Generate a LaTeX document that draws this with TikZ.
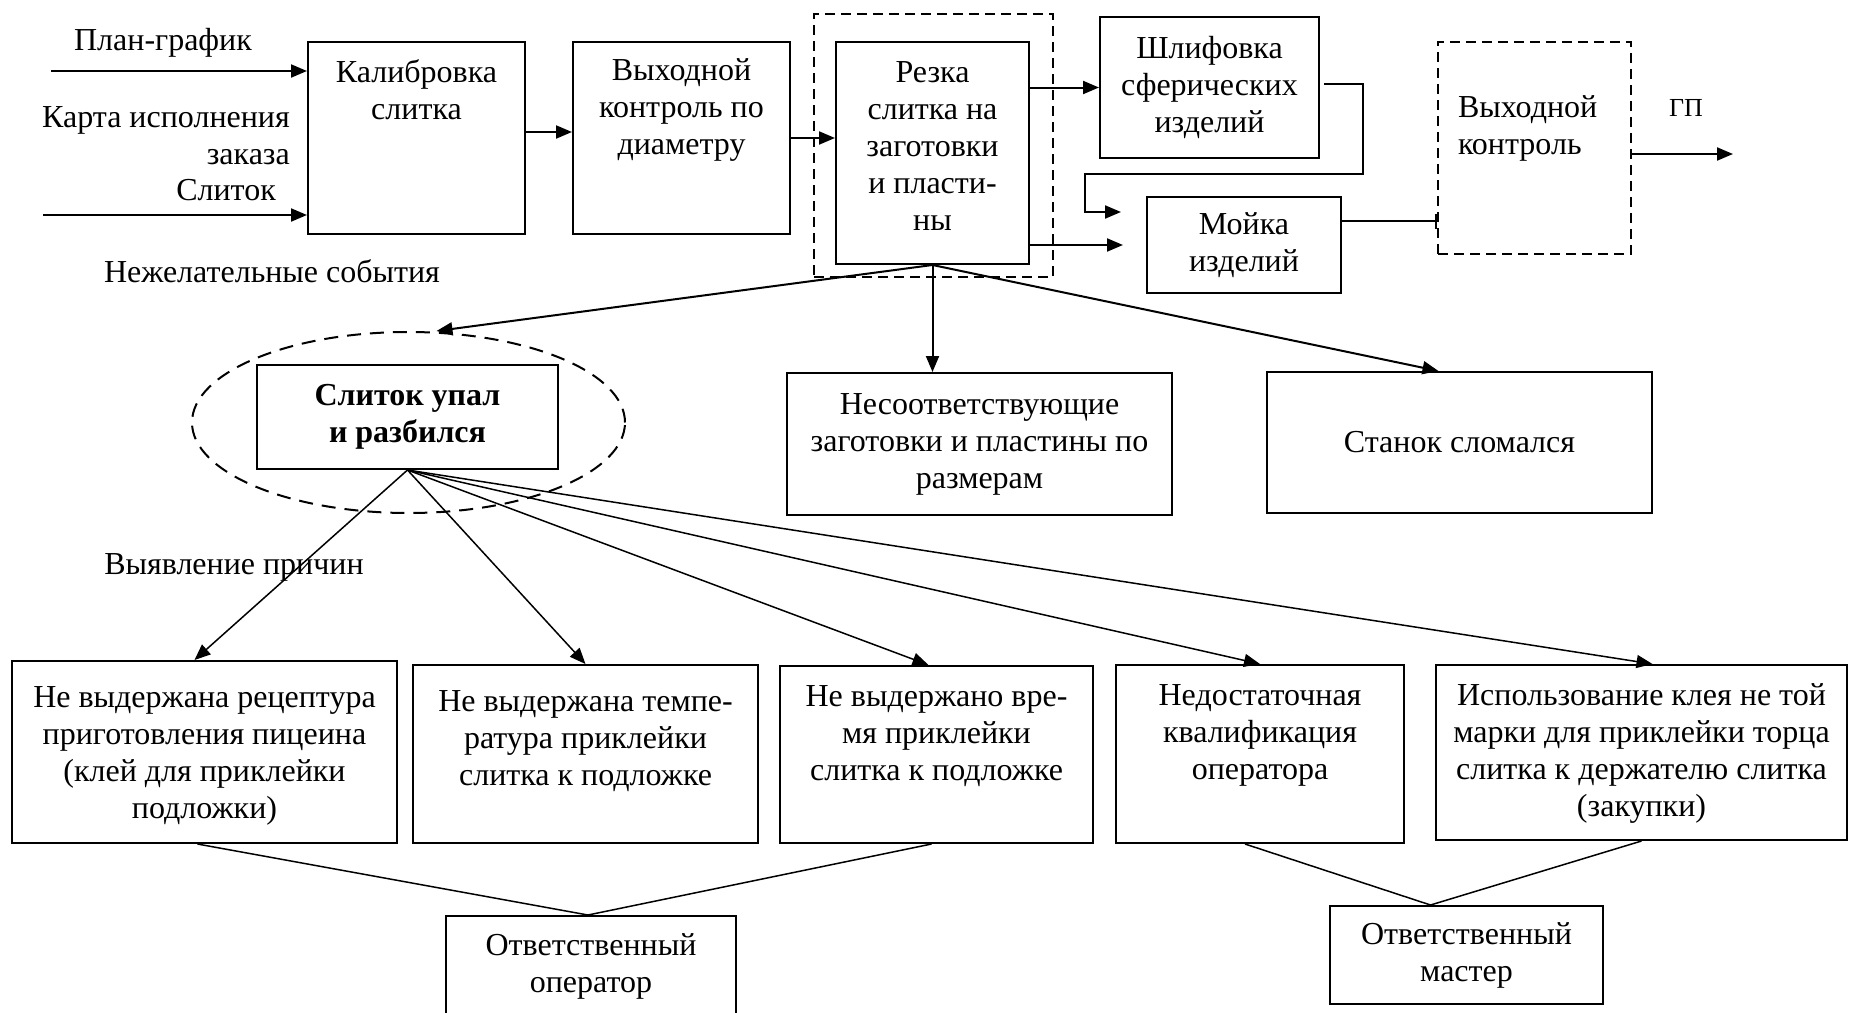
\documentclass[tikz,border=0pt]{standalone}
\usepackage{fontspec}
\setmainfont{Liberation Serif}
\usepackage{tikz}
\usetikzlibrary{arrows.meta}
\usetikzlibrary{shapes.geometric}

% box text hung from the top edge
\newcommand{\topcell}[4][40pt]{\parbox[c][#3][t]{#2}{\centering\rule{0pt}{#1}#4\par}}

\begin{document}
\begin{tikzpicture}[x=1pt, y=-1pt,
  font=\fontsize{32}{37}\selectfont,
  blk/.style={draw, line width=2pt, inner sep=0pt, anchor=north west},
  cblk/.style={draw, line width=2pt, align=center, inner sep=0pt},
  dsh/.style={draw, line width=2pt, dash pattern=on 10pt off 6pt},
  lbl/.style={inner sep=0pt},
  arr/.style={line width=2pt, -{Triangle[length=16pt,width=13pt]}},
  fan/.style={line width=1.5pt, -{Triangle[length=16pt,width=13pt]}},
  lnk/.style={line width=1.5pt}]
\useasboundingbox (0,0) rectangle (1849,1012);

% top row
\node[lbl] (plan) at (163,43) {План-график};
\node[lbl, align=right, anchor=east] (karta) at (290,136) {Карта исполнения\\заказа};
\node[lbl, anchor=east] (slit) at (276,190) {Слиток};
\node[lbl] (nezh) at (272,271) {Нежелательные события};

\node[blk] (kal) at (307,41) {\topcell{217pt}{192pt}{Калибровка\\слитка}};
\node[blk] (vyh) at (572,41) {\topcell[38pt]{217pt}{192pt}{Выходной\\контроль по\\диаметру}};
\node[blk] (rez) at (835,41) {\topcell{193pt}{222pt}{Резка\\слитка на\\заготовки\\и пласти-\\ны}};
\node[dsh, anchor=north west, minimum width=239pt, minimum height=263pt] (rezfr) at (813,13) {};
\node[cblk, minimum width=219pt, minimum height=141pt] (shl) at (1209.5,87.5) {Шлифовка\\сферических\\изделий};
\node[cblk, minimum width=194pt, minimum height=96pt] (moy) at (1244,245) {Мойка\\изделий};
\node[dsh, inner sep=0pt, anchor=north west] (vyk) at (1437,41)
  {\parbox[c][212pt][t]{193pt}{\raggedright\leftskip=20pt\rule{0pt}{75pt}Выходной\\контроль}};
\node[lbl, font=\fontsize{26}{30}\selectfont] (gp) at (1686,108) {ГП};

\coordinate (pin) at (51,71);
\coordinate (sin) at (43,215);
\coordinate (moyin) at (1123,245);
\coordinate (shlret) at (1121,212);
\coordinate (gpout) at (1733,154);

\draw[arr] (pin) -- (pin -| kal.west);
\draw[arr] (sin) -- (sin -| kal.west);
\draw[arr] ([yshift=6pt]kal.east) -- ([yshift=6pt]vyh.west);
\draw[arr] (vyh.east) -- (vyh.east -| rez.west);
\draw[arr] (rez.east |- shl.west) -- (shl.west);
\draw[arr] (rez.east |- moyin) -- (moyin);
\draw[arr] ([xshift=4pt,yshift=4pt]shl.east) -| (1363,174) -| (1085,212) -- (shlret);
\draw[line width=2pt, -{Bar[width=15pt]}] ([yshift=24pt]moy.east) -- ([yshift=24pt]moy.east -| vyk.west);
\draw[arr] (vyk.east |- gpout) -- (gpout);

% undesired events
\node[dsh, ellipse, dash pattern=on 14pt off 9pt, minimum width=433pt, minimum height=181pt] (evt) at (408.5,422.5) {};
\node[cblk, minimum width=301pt, minimum height=104pt, font=\fontsize{32}{37}\selectfont\bfseries] (spl) at (407.5,417) {Слиток упал\\и разбился};
\node[cblk, minimum width=385pt, minimum height=142pt] (nes) at (979.5,444) {Несоответствующие\\заготовки и пластины по\\размерам};
\node[cblk, minimum width=385pt, minimum height=141pt] (stan) at (1459.5,442.5) {Станок сломался};

\draw[arr] (rez.south) -- ([xshift=28pt]evt.north);
\draw[arr] (rez.south) -- (rez.south |- nes.north);
\draw[arr] (rez.south) -- ([xshift=-21pt]stan.north);

% causes
\node[lbl] (vyyav) at (234,567) {Выявление причин};
\node[blk] (c1) at (11,660) {\topcell[46pt]{385pt}{182pt}{Не выдержана рецептура\\приготовления пицеина\\(клей для приклейки\\подложки)}};
\node[blk] (c2) at (412,664) {\topcell[46pt]{345pt}{178pt}{Не выдержана темпе-\\ратура приклейки\\слитка к подложке}};
\node[blk] (c3) at (779,665) {\topcell{313pt}{177pt}{Не выдержано вре-\\мя приклейки\\слитка к подложке}};
\node[blk] (c4) at (1115,664) {\topcell{288pt}{178pt}{Недостаточная\\квалификация\\оператора}};
\node[blk] (c5) at (1435,664) {\topcell{411pt}{175pt}{Использование клея не той\\марки для приклейки торца\\слитка к держателю слитка\\(закупки)}};

\foreach \c/\dx in {c1/-10, c2/0, c3/-8, c4/0, c5/11}
  \draw[fan] (spl.south) -- ([xshift=\dx pt]\c.north);

% responsible
\node[blk] (ro) at (445,915) {\topcell[39pt]{290pt}{100pt}{Ответственный\\оператор}};
\node[cblk, minimum width=273pt, minimum height=98pt] (rm) at (1466.5,955) {Ответственный\\мастер};

\draw[lnk] ([xshift=-7pt]c1.south) -- ([xshift=-3pt]ro.north) -- ([xshift=-5pt]c3.south);
\draw[lnk] ([xshift=-15pt]c4.south) -- ([xshift=-36pt]rm.north) -- (c5.south);
\end{tikzpicture}
\end{document}
